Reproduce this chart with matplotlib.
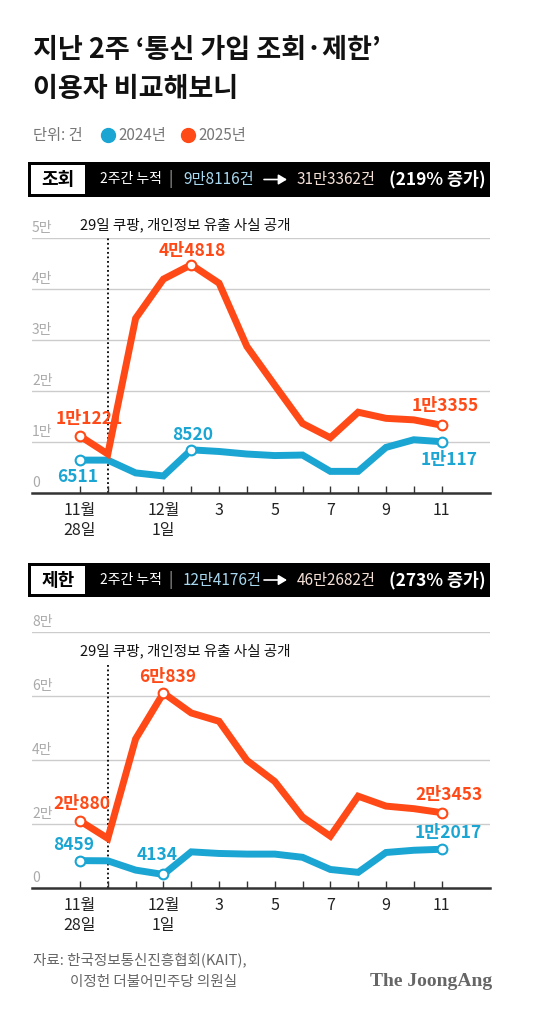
import matplotlib
matplotlib.use("Agg")
import matplotlib.pyplot as plt
from matplotlib.patches import Rectangle, FancyArrowPatch
from matplotlib.lines import Line2D

plt.rcParams['font.family'] = ['Noto Sans CJK KR', 'DejaVu Sans']

# --- 데이터 ---
days = list(range(14))  # 11월 28일 ~ 12월 11일
xtick_pos = [0, 3, 5, 7, 9, 11, 13]
xtick_labels = ['11월\n28일', '12월\n1일', '3', '5', '7', '9', '11']

lookup_2024 = [6511, 6500, 4000, 3400, 8520, 8200, 7700, 7400, 7500, 4300, 4300, 9000, 10500, 10117]
lookup_2025 = [11221, 7700, 34300, 42000, 44818, 41200, 28800, 21200, 13700, 10900, 15900, 14700, 14400, 13355]
block_2024 = [8459, 8400, 5500, 4134, 11200, 10700, 10500, 10500, 9500, 5700, 4800, 11000, 11700, 12017]
block_2025 = [20880, 15400, 46500, 60839, 54600, 52000, 39800, 33200, 22100, 16100, 28600, 25500, 24700, 23453]

lookup_yticks = [0, 10000, 20000, 30000, 40000, 50000]
lookup_ylabels = ['0', '1만', '2만', '3만', '4만', '5만']
block_yticks = [0, 20000, 40000, 60000, 80000]
block_ylabels = ['0', '2만', '4만', '6만', '8만']

ORANGE = '#FF4A17'
BLUE = '#1BA5D3'
W, H = 560, 1011

fig = plt.figure(figsize=(W / 100, H / 100), dpi=100)
fig.patch.set_facecolor('white')


def fx(px):
    return px / W


def fy(py):
    return 1 - py / H


# --- 제목 ---
fig.text(fx(33), fy(50), '지난 2주 ‘통신 가입 조회·제한’', fontsize=19.5, fontweight='bold',
         va='center', ha='left', color='#111111')
fig.text(fx(33), fy(89), '이용자 비교해보니', fontsize=19.5, fontweight='bold',
         va='center', ha='left', color='#111111')

# --- 범례 ---
fig.text(fx(33), fy(135), '단위: 건', fontsize=11, va='center', color='#777777')
fig.add_artist(Line2D([fx(108)], [fy(135)], marker='o', markersize=10, color=BLUE,
                      transform=fig.transFigure))
fig.text(fx(118), fy(135), '2024년', fontsize=11, va='center', color='#777777')
fig.add_artist(Line2D([fx(188)], [fy(135)], marker='o', markersize=10, color=ORANGE,
                      transform=fig.transFigure))
fig.text(fx(198), fy(135), '2025년', fontsize=11, va='center', color='#777777')


def header(y_top, y_bot, name, before, after, pct):
    fig.add_artist(Rectangle((fx(28), fy(y_bot)), fx(490) - fx(28), fy(y_top) - fy(y_bot),
                             facecolor='black', edgecolor='none', transform=fig.transFigure))
    fig.add_artist(Rectangle((fx(31), fy(y_bot - 3)), fx(85) - fx(31), fy(y_top + 3) - fy(y_bot - 3),
                             facecolor='white', edgecolor='none', transform=fig.transFigure))
    yc = fy((y_top + y_bot) / 2)
    fig.text(fx(58), yc, name, fontsize=13, fontweight='bold', ha='center', va='center', color='black')
    fig.text(fx(100), yc, '2주간 누적', fontsize=10, ha='left', va='center', color='white')
    fig.text(fx(171), yc, '|', fontsize=11, ha='center', va='center', color='#aaaaaa')
    fig.text(fx(183), yc, before, fontsize=11, ha='left', va='center', color='#A8D8F0')
    fig.add_artist(FancyArrowPatch((fx(264), yc), (fx(287), yc), transform=fig.transFigure,
                                   arrowstyle='-|>,head_length=5,head_width=3', color='white',
                                   lw=1.2, shrinkA=0, shrinkB=0))
    fig.text(fx(297), yc, after, fontsize=11, ha='left', va='center', color='#F5E0D8')
    fig.text(fx(486), yc, pct, fontsize=12.5, fontweight='bold', ha='right', va='center', color='white')


header(162, 197, '조회', '9만8116건', '31만3362건', '(219% 증가)')
header(563, 597, '제한', '12만4176건', '46만2682건', '(273% 증가)')


def panel(y_top, y_base, ymax, yticks, ylabels, s24, s25, marks24, marks25, labels, note_y, dot_top):
    ax = fig.add_axes([fx(32), fy(y_base), fx(490) - fx(32), fy(y_top) - fy(y_base)])
    ax.set_xlim(-1.725, 14.74)
    ax.set_ylim(0, ymax)
    for s in ['top', 'right', 'left']:
        ax.spines[s].set_visible(False)
    ax.spines['bottom'].set_color('#333333')
    ax.spines['bottom'].set_linewidth(1.8)
    ax.set_yticks([])
    for v, lab in zip(yticks, ylabels):
        if v > 0:
            ax.axhline(v, color='#cccccc', lw=1, zorder=0)
        ax.text(-1.725, v + ymax * 0.012, lab, fontsize=10, color='#aaaaaa', ha='left', va='bottom')
    ax.set_xticks(days)
    ax.set_xticklabels([''] * len(days))
    ax.tick_params(axis='x', direction='in', length=5, width=1, color='#333333')
    trans = ax.get_xaxis_transform()
    for p, lab in zip(xtick_pos, xtick_labels):
        ax.text(p, -0.035, lab, transform=trans, ha='center', va='top', fontsize=11.5,
                color='#222222', linespacing=1.25)

    # 쿠팡 사건 점선
    ax.plot([1, 1], [0, dot_top], color='black', lw=1.3, ls=(0, (1, 1.5)), zorder=1)
    ax.text(0, note_y, '29일 쿠팡, 개인정보 유출 사실 공개', fontsize=10.5, ha='left', va='center',
            color='#111111')

    ax.plot(days, s24, color=BLUE, lw=5, solid_joinstyle='miter', zorder=3, clip_on=False)
    ax.plot(days, s25, color=ORANGE, lw=5, solid_joinstyle='miter', zorder=4, clip_on=False)
    ax.plot(marks24, [s24[i] for i in marks24], 'o', ms=7, mfc='white', mec=BLUE, mew=1.5,
            zorder=5, clip_on=False)
    ax.plot(marks25, [s25[i] for i in marks25], 'o', ms=7, mfc='white', mec=ORANGE, mew=1.5,
            zorder=5, clip_on=False)
    for (series, i, dx, dy, color) in labels:
        val = series[i]
        txt = f'{val // 10000}만{val % 10000}' if val >= 10000 else str(val)
        ax.annotate(txt, (i, val), xytext=(dx, dy), textcoords='offset pixels', ha='center',
                    va='center', fontsize=12.5, fontweight='bold', color=color, zorder=6)
    return ax


panel(238.3, 493.3, 50000, lookup_yticks, lookup_ylabels, lookup_2024, lookup_2025,
      [0, 4, 13], [0, 4, 13],
      [(lookup_2025, 0, 9, 17, ORANGE), (lookup_2024, 0, -2, -17, BLUE),
       (lookup_2024, 4, 1, 15, BLUE), (lookup_2025, 4, 1, 14, ORANGE),
       (lookup_2025, 13, 4, 19, ORANGE), (lookup_2024, 13, 8, -18, BLUE)],
      52550, 50000)

panel(631.7, 887.7, 80000, block_yticks, block_ylabels, block_2024, block_2025,
      [0, 3, 13], [0, 3, 13],
      [(block_2025, 0, 2, 17, ORANGE), (block_2024, 0, -6, 16, BLUE),
       (block_2025, 3, 4, 16, ORANGE), (block_2024, 3, -6, 19, BLUE),
       (block_2025, 13, 7, 18, ORANGE), (block_2024, 13, 7, 16, BLUE)],
      74000, 69500)

# --- 출처 ---
fig.text(fx(33), fy(960), '자료: 한국정보통신진흥협회(KAIT),', fontsize=10.5, va='center', color='#666666')
fig.text(fx(70), fy(982), '이정헌 더불어민주당 의원실', fontsize=10.5, va='center', color='#666666')
fig.text(fx(492), fy(982), 'The JoongAng', fontsize=14, fontweight='bold', ha='right', va='center',
         color='#666666', family=['Liberation Serif'])

fig.savefig('out.png', dpi=100, facecolor='white')
